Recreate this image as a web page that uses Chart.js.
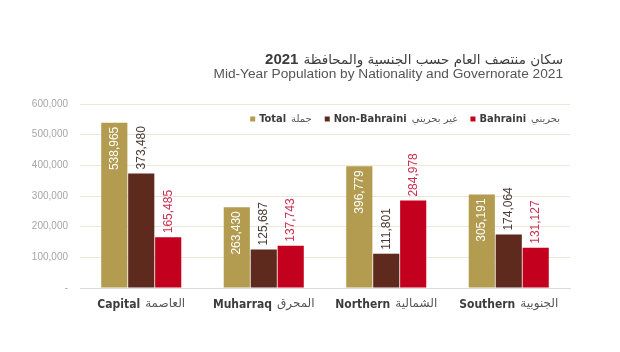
<!DOCTYPE html>
<html>
<head>
<meta charset="utf-8">
<script src="https://cdn.jsdelivr.net/npm/chart.js@4/dist/chart.umd.min.js"></script>
<style>
  html, body { margin: 0; padding: 0; background: #fff; }
  #wrap { width: 620px; height: 352px; }
</style>
</head>
<body>
<div id="wrap"><canvas id="popChart" width="620" height="352"></canvas></div>
<script>
const categories = ["Capital", "Muharraq", "Northern", "Southern"];
const categoriesAr = ["العاصمة", "المحرق", "الشمالية", "الجنوبية"];
const totalValues = [538965, 263430, 396779, 305191];
const nonBahrainiValues = [373480, 125687, 111801, 174064];
const bahrainiValues = [165485, 137743, 284978, 131127];
const seriesNames = ["Total", "Non-Bahraini", "Bahraini"];
const seriesNamesAr = ["جملة", "غير بحريني", "بحريني"];
const yTicks = [0, 100000, 200000, 300000, 400000, 500000, 600000];

const titleAr = "سكان منتصف العام حسب الجنسية والمحافظة";
const titleYear = "2021";
const titleEn = "Mid-Year Population by Nationality and Governorate 2021";

const colors = ["#b39b50", "#5e2a1e", "#c4001f"];
const labelColors = ["#ffffff", "#4a3a36", "#cc3050"];

const enBold = 'bold 12px "Liberation Sans Narrow", "DejaVu Sans Condensed", sans-serif';
const arFont = '12px "DejaVu Sans", sans-serif';

// titles, legend, category labels and value labels
const decorations = {
    id: "decorations",
    afterDatasetsDraw(chart) {
        const ctx = chart.ctx;
        const area = chart.chartArea;
        ctx.save();

        // title
        ctx.textBaseline = "alphabetic";
        ctx.fillStyle = "#3c3c3c";
        ctx.font = '13.5px "DejaVu Sans", sans-serif';
        ctx.textAlign = "right";
        const right = 563;
        ctx.fillText(titleAr, right, 64);
        const arW = ctx.measureText(titleAr).width;
        ctx.font = 'bold 15px "Liberation Sans", Arial, sans-serif';
        ctx.fillText(titleYear, right - arW - 5, 64);
        ctx.fillStyle = "#555555";
        ctx.font = '13.7px "Liberation Sans", Arial, sans-serif';
        ctx.fillText(titleEn, right, 78);

        // legend, right aligned, from last item to first
        ctx.textBaseline = "middle";
        let x = 560;
        const ly = 119;
        for (let i = chart.data.datasets.length - 1; i >= 0; i--) {
            ctx.textAlign = "right";
            ctx.font = '10px "DejaVu Sans", sans-serif';
            ctx.fillStyle = "#555555";
            ctx.fillText(seriesNamesAr[i], x, ly);
            x -= ctx.measureText(seriesNamesAr[i]).width + 5;
            ctx.font = 'bold 11px "Liberation Sans Narrow", "DejaVu Sans Condensed", sans-serif';
            ctx.fillStyle = "#3c3c3c";
            ctx.fillText(seriesNames[i], x, ly);
            x -= ctx.measureText(seriesNames[i]).width + 4;
            ctx.fillStyle = chart.data.datasets[i].backgroundColor;
            ctx.fillRect(x - 5, ly - 2.5, 5, 5);
            x -= 5 + 13;
        }

        // category labels under the axis
        const xScale = chart.scales.x;
        categories.forEach((c, i) => {
            const cx = xScale.getPixelForValue(i);
            ctx.font = enBold;
            const w1 = ctx.measureText(c).width;
            ctx.font = arFont;
            const w2 = ctx.measureText(categoriesAr[i]).width;
            const start = cx - (w1 + 5 + w2) / 2;
            ctx.textAlign = "left";
            ctx.fillStyle = "#3c3c3c";
            ctx.font = enBold;
            ctx.fillText(c, start, area.bottom + 17);
            ctx.font = arFont;
            ctx.fillStyle = "#555555";
            ctx.fillText(categoriesAr[i], start + w1 + 5, area.bottom + 16);
        });

        // value labels, rotated
        ctx.font = '12px "Liberation Sans", Arial, sans-serif';
        chart.data.datasets.forEach((ds, di) => {
            const meta = chart.getDatasetMeta(di);
            meta.data.forEach((bar, i) => {
                const text = ds.data[i].toLocaleString("en-US");
                ctx.save();
                ctx.fillStyle = labelColors[di];
                ctx.textBaseline = "middle";
                if (di === 0) {
                    ctx.translate(bar.x, bar.y + 4);
                    ctx.rotate(-Math.PI / 2);
                    ctx.textAlign = "right";
                } else {
                    ctx.translate(bar.x, bar.y - 4);
                    ctx.rotate(-Math.PI / 2);
                    ctx.textAlign = "left";
                }
                ctx.fillText(text, 0, 0);
                ctx.restore();
            });
        });

        ctx.restore();
    }
};

const ctx = document.getElementById("popChart").getContext("2d");
new Chart(ctx, {
    type: "bar",
    data: {
        labels: categories,
        datasets: [
            { label: seriesNames[0], data: totalValues, backgroundColor: colors[0] },
            { label: seriesNames[1], data: nonBahrainiValues, backgroundColor: colors[1] },
            { label: seriesNames[2], data: bahrainiValues, backgroundColor: colors[2] }
        ]
    },
    options: {
        responsive: false,
        animation: false,
        layout: { padding: { top: 104, right: 50, bottom: 64, left: 0 } },
        plugins: {
            legend: { display: false },
            tooltip: { enabled: false }
        },
        datasets: {
            bar: { categoryPercentage: 0.66, barPercentage: 0.97, borderWidth: 0 }
        },
        scales: {
            x: {
                grid: { display: false, drawTicks: false },
                border: { display: true, color: "#d9d9d9" },
                ticks: { display: false }
            },
            y: {
                min: 0,
                max: 600000,
                afterBuildTicks(scale) {
                    scale.ticks = yTicks.map(v => ({ value: v }));
                },
                afterFit(scale) { scale.width = 80; },
                grid: { color: "#ede7d8", drawTicks: false },
                border: { display: false },
                ticks: {
                    padding: 12,
                    color: "#a6a6a6",
                    font: { family: "Liberation Sans, Arial, sans-serif", size: 10 },
                    callback: v => v === 0 ? "-" : v.toLocaleString("en-US")
                }
            }
        }
    },
    plugins: [decorations]
});
</script>
</body>
</html>
